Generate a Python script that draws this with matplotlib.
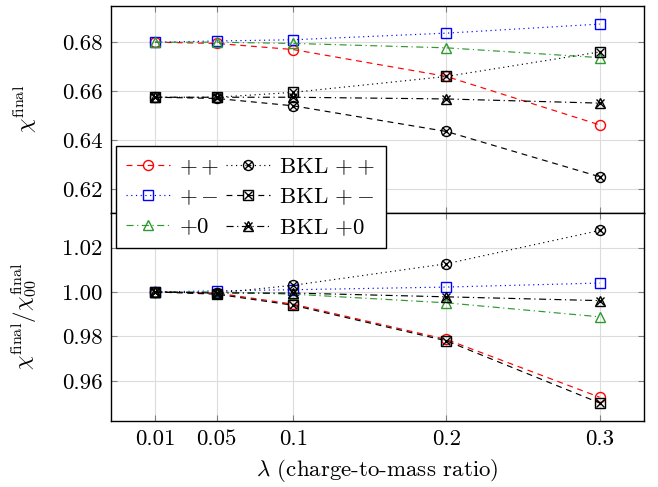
import matplotlib
matplotlib.use("Agg")
import matplotlib.pyplot as plt
from matplotlib.lines import Line2D

plt.rcParams['font.family'] = 'serif'
plt.rcParams['font.serif'] = ['cmr10', 'DejaVu Serif']
plt.rcParams['mathtext.fontset'] = 'cm'
plt.rcParams['axes.formatter.use_mathtext'] = True
plt.rcParams['axes.unicode_minus'] = False

lam = [0.01, 0.05, 0.1, 0.2, 0.3]
xtick_labels = ["0.01", "0.05", "0.1", "0.2", "0.3"]

# top panel: chi_final
top_pp = [0.680, 0.6795, 0.677, 0.666, 0.6462]
top_pm = [0.680, 0.6805, 0.681, 0.6837, 0.6874]
top_p0 = [0.680, 0.680, 0.6795, 0.6777, 0.6737]
top_bkl_dotted = [0.6575, 0.6575, 0.6595, 0.666, 0.676]
top_bkl_dashed = [0.6575, 0.657, 0.654, 0.6435, 0.625]
top_bkl_p0 = [0.6575, 0.6575, 0.6575, 0.6568, 0.6551]

# bottom panel: ratio
bot_pp = [1.000, 0.9995, 0.9945, 0.9786, 0.9526]
bot_pm = [1.000, 1.0005, 1.001, 1.0022, 1.004]
bot_p0 = [1.000, 1.000, 0.999, 0.9951, 0.9888]
bot_bkl_pp = [1.000, 0.9995, 1.003, 1.0127, 1.0277]
bot_bkl_pm = [1.000, 0.999, 0.994, 0.978, 0.950]
bot_bkl_p0 = [1.000, 0.9995, 0.9995, 0.9978, 0.9961]

top_yticks = [0.62, 0.64, 0.66, 0.68]
bot_yticks = [0.96, 0.98, 1.00, 1.02]

RED = '#ff0000'
BLUE = '#0000ff'
GREEN = '#2e9a2e'
BLACK = '#000000'
FS = 16.5
MS = 7.2
LW = 0.85

fig = plt.figure(figsize=(6.58, 4.87), dpi=100)
left, right = 111 / 658, 644 / 658
ax1 = fig.add_axes([left, 1 - 212.7 / 487, right - left, (212.7 - 6) / 487])
ax2 = fig.add_axes([left, 1 - 420.7 / 487, right - left, (420.7 - 212.7) / 487])


def plot_plain(ax, y, color, ls, marker):
    ax.plot(lam, y, color=color, ls=ls, lw=LW, marker=marker, ms=MS,
            mfc='none', mec=color, mew=1.0)


def plot_bkl(ax, y, ls, marker):
    ax.plot(lam, y, color=BLACK, ls=ls, lw=LW, marker=marker, ms=MS,
            mfc='none', mec=BLACK, mew=1.0)
    ax.plot(lam, y, ls='none', marker='x', ms=MS * 0.85, mec=BLACK, mew=1.0)


for ax in (ax1, ax2):
    ax.set_xlim(-0.019, 0.329)
    ax.set_xticks(lam)
    ax.grid(True, color='#dcdcdc', lw=0.8)
    ax.set_axisbelow(True)
    ax.tick_params(direction='in', length=4, color='#808080', labelsize=FS,
                   top=True, right=True, pad=6)
    for s in ax.spines.values():
        s.set_linewidth(1.0)

# top panel (marker shapes of BKL dotted/dashed as in the reference)
plot_plain(ax1, top_pp, RED, (0, (5, 4)), 'o')
plot_plain(ax1, top_pm, BLUE, (0, (1, 3)), 's')
plot_plain(ax1, top_p0, GREEN, (0, (6, 3, 1, 3)), '^')
plot_bkl(ax1, top_bkl_dotted, (0, (1, 3)), 's')
plot_bkl(ax1, top_bkl_dashed, (0, (5, 4)), 'o')
plot_bkl(ax1, top_bkl_p0, (0, (6, 3, 1, 3)), '^')
ax1.set_ylim(0.6103, 0.6948)
ax1.set_yticks(top_yticks)
ax1.set_yticklabels([f"{v:.2f}" for v in top_yticks])
ax1.set_xticklabels([])
ax1.set_ylabel(r"$\chi^{\mathrm{final}}$", fontsize=FS)

# bottom panel
plot_plain(ax2, bot_pp, RED, (0, (5, 4)), 'o')
plot_plain(ax2, bot_pm, BLUE, (0, (1, 3)), 's')
plot_plain(ax2, bot_p0, GREEN, (0, (6, 3, 1, 3)), '^')
plot_bkl(ax2, bot_bkl_pp, (0, (1, 3)), 'o')
plot_bkl(ax2, bot_bkl_pm, (0, (5, 4)), 's')
plot_bkl(ax2, bot_bkl_p0, (0, (6, 3, 1, 3)), '^')
ax2.set_ylim(0.942, 1.0357)
ax2.set_yticks(bot_yticks)
ax2.set_yticklabels([f"{v:.2f}" for v in bot_yticks])
ax2.set_xticklabels(xtick_labels)
ax2.set_ylabel(r"$\chi^{\mathrm{final}}/\chi^{\mathrm{final}}_{00}$", fontsize=FS)
ax2.set_xlabel(r"$\lambda$ (charge-to-mass ratio)", fontsize=FS, labelpad=6)

for ax in (ax1, ax2):
    ax.yaxis.set_label_coords(-0.135, 0.5)


def h_plain(color, ls, marker):
    return Line2D([], [], color=color, ls=ls, lw=LW, marker=marker, ms=MS,
                  mfc='none', mec=color, mew=1.0)


def h_bkl(ls, marker):
    return (Line2D([], [], color=BLACK, ls=ls, lw=LW, marker=marker, ms=MS,
                   mfc='none', mec=BLACK, mew=1.0),
            Line2D([], [], ls='none', marker='x', ms=MS * 0.85, mec=BLACK, mew=1.0))


handles = [h_plain(RED, (0, (5, 4)), 'o'),
           h_plain(BLUE, (0, (1, 3)), 's'),
           h_plain(GREEN, (0, (6, 3, 1, 3)), '^'),
           h_bkl((0, (1, 3)), 'o'),
           h_bkl((0, (5, 4)), 's'),
           h_bkl((0, (6, 3, 1, 3)), '^')]
labels = [r"$++$", r"$+-$", r"$+0$", r"BKL $++$", r"BKL $+-$", r"BKL $+0$"]

leg = fig.legend(handles, labels, loc='upper left',
                 bbox_to_anchor=(116 / 658, 1 - 146 / 487), ncol=2,
                 fontsize=FS, frameon=True, fancybox=False, edgecolor='black',
                 framealpha=1.0, handlelength=1.9, handletextpad=0.4,
                 columnspacing=0.3, labelspacing=0.42, borderpad=0.45,
                 borderaxespad=0)
leg.get_frame().set_linewidth(1.0)
leg.set_zorder(10)

fig.savefig("out.png", dpi=100)
